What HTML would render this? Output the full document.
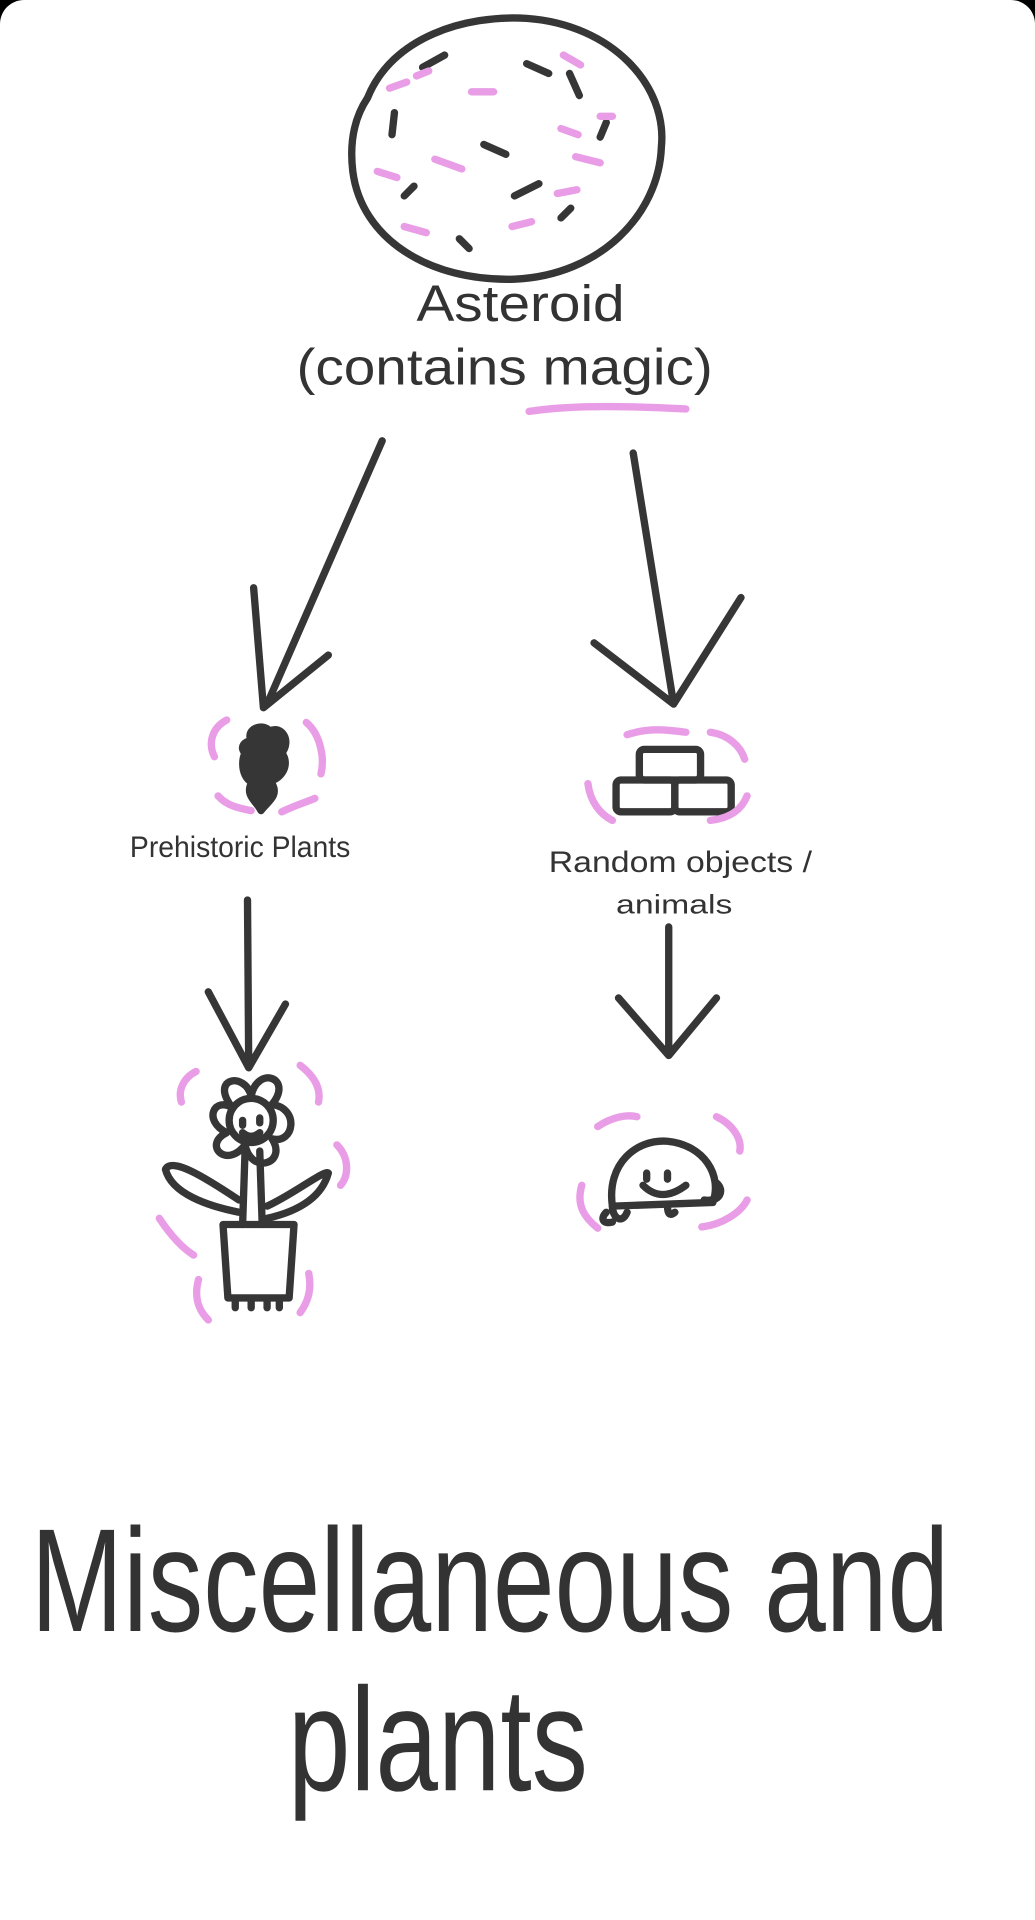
<!DOCTYPE html>
<html><head><meta charset="utf-8"><style>
html,body{margin:0;padding:0;background:#000;width:1035px;height:1920px;overflow:hidden}
.w{position:absolute;left:0;top:0;width:1035px;height:1920px;background:#fff;border-radius:24px 24px 0 0}
svg{position:absolute;left:0;top:0}
text{font-family:"Liberation Sans",sans-serif;fill:#333}
</style></head><body><div class="w"></div>
<svg width="1035" height="1920" viewBox="0 0 845 1568">
<g fill="none" stroke="#363636" stroke-width="6" stroke-linecap="round" stroke-linejoin="round">
<path d="M300 80 C320 30 380 12 430 15 C500 20 545 70 540 120 C538 175 490 225 420 228 C350 230 295 195 288 140 C285 115 290 95 300 80Z"/>
<path d="M345 55l18-10M430 52l18 8M465 60l8 18M322 92l-2 18M495 100l-5 12M395 118l18 8M420 160l20-10M330 160l8-8M458 178l8-8M375 195l8 8"/>
<!-- arrows -->
<path d="M312 360 L218 575 M207 480 L215 578 L268 535"/>
<path d="M517 370 L550 575 M485 525 L550 575 L605 488"/>
<path d="M202 735 L203 872 M170 810 L203 872 L233 820"/>
<path d="M546 757 L546 862 M505 815 L546 862 L585 815"/>
<!-- boxes -->
<rect x="522" y="612" width="50" height="25" rx="4"/>
<rect x="503" y="637" width="48" height="26" rx="4"/>
<rect x="551" y="637" width="46" height="26" rx="4"/>
<!-- flower -->
<circle cx="205" cy="915" r="18"/>
<path d="M190 905 C170 880 200 875 205 895 C210 870 240 880 222 902 C245 905 240 935 222 930 C235 950 205 960 200 935 C185 955 165 935 185 925 C165 915 175 895 190 905"/>
<path d="M200 940 L198 1000 M212 940 L214 1000"/>
<path d="M195 980 C165 960 140 945 135 955 C140 975 170 985 195 990"/>
<path d="M218 985 C240 975 265 955 268 958 C262 980 240 990 218 995"/>
<path d="M182 1000 L240 1000 L236 1060 L186 1060 Z M192 1060v8M205 1060v8M218 1060v8M228 1060v8"/>
<path d="M198 915 l0 4 M212 913 l0 4 M198 925 q7 6 14 0"/>
<!-- turtle -->
<path d="M500 985 C495 950 520 930 545 932 C575 935 590 960 582 982 Z"/>
<path d="M500 985 C500 995 508 1000 512 990 M545 985 q0 10 6 5 M575 980 C588 982 592 972 585 966"/>
<path d="M495 990 C490 995 492 1000 500 998"/>
<path d="M528 958l0 5 M545 958l0 5 M525 968 q15 15 35 0"/>
<!-- plant icon -->
<path d="M205 605 C200 595 215 590 220 597 C230 592 238 605 230 615 C238 625 228 640 215 638 C200 645 195 625 200 615 C195 610 200 605 205 605Z" fill="#363636"/>
<path d="M205 640 C200 650 210 655 213 662 C218 655 228 650 222 640" fill="#363636"/>
</g>
<g fill="none" stroke="#e99de6" stroke-width="6" stroke-linecap="round">
<path d="M318 72l14-5M385 75l18 0M460 45l14 8M458 105l14 5M490 95l10 0M308 140l16 5M355 130l22 8M470 128l20 5M455 158l16-3M330 185l18 5M418 185l16-4M350 58l-10 4"/>
<path d="M432 336 C470 330 520 332 560 334"/>
<path d="M185 588 C172 595 170 608 175 618 M250 590 C262 600 265 620 262 632 M178 650 C185 658 195 660 205 662 M230 663 C240 658 250 655 257 652"/>
<path d="M512 600 C530 594 545 596 560 598 M580 598 C595 600 605 610 608 620 M480 640 C482 655 490 665 500 670 M580 670 C598 668 606 660 610 650"/>
<path d="M160 875 C150 880 145 890 148 900 M245 870 C258 880 262 890 260 900 M275 935 C285 945 285 960 278 968 M130 995 C140 1010 150 1020 158 1025 M162 1045 C158 1060 162 1070 170 1078 M252 1040 C255 1055 250 1065 245 1072"/>
<path d="M488 920 C500 912 512 910 520 912 M585 912 C598 918 606 930 604 940 M475 968 C470 985 478 995 488 1003 M573 1002 C590 1000 605 990 610 980"/>
</g>
<text x="425" y="262" font-size="42" text-anchor="middle" textLength="170" lengthAdjust="spacingAndGlyphs">Asteroid</text>
<text x="412" y="314" font-size="42" text-anchor="middle" textLength="340" lengthAdjust="spacingAndGlyphs">(contains magic)</text>
<text x="106" y="700" font-size="24" textLength="180" lengthAdjust="spacingAndGlyphs">Prehistoric Plants</text>
<text x="448" y="712" font-size="24" textLength="215" lengthAdjust="spacingAndGlyphs">Random objects /</text>
<text x="503" y="746" font-size="22" textLength="95" lengthAdjust="spacingAndGlyphs">animals</text>
<text x="25" y="1332" font-size="120" textLength="750" lengthAdjust="spacingAndGlyphs">Miscellaneous and</text>
<text x="235" y="1462" font-size="120" textLength="245" lengthAdjust="spacingAndGlyphs">plants</text>
</svg>
</body></html>
